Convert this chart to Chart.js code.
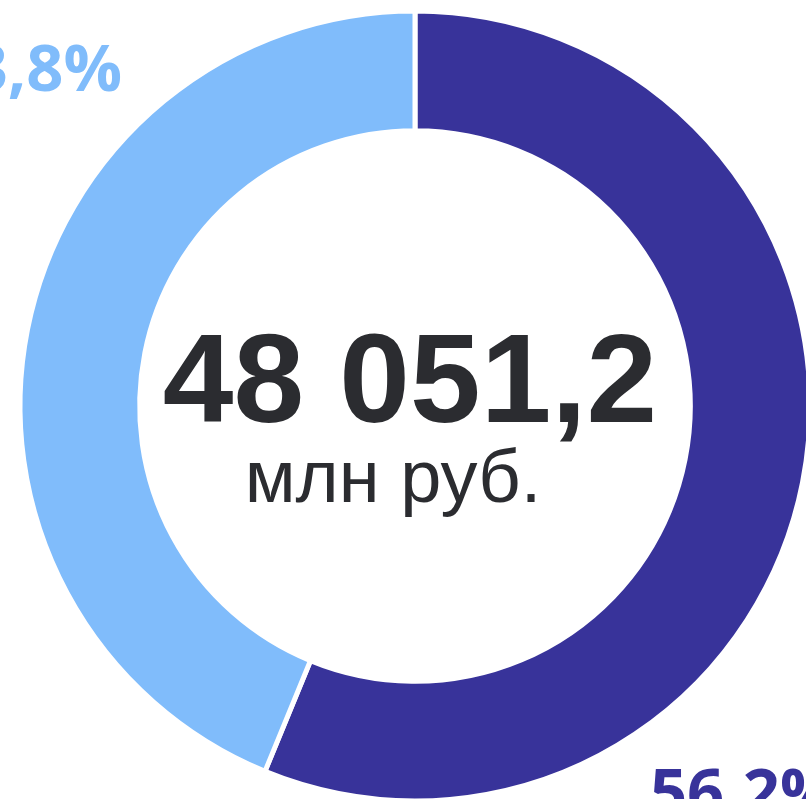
<!DOCTYPE html>
<html>
<head>
<meta charset="utf-8">
<script src="https://cdn.jsdelivr.net/npm/chart.js@4"></script>
<style>
  html, body { margin: 0; padding: 0; background: #fff; overflow: hidden; }
  #wrap { position: relative; width: 806px; height: 799px; }
</style>
</head>
<body>
<div id="wrap"><canvas id="chart1" width="806" height="799"></canvas></div>
<script>
// данные
const labels = ['56,2%', '43,8%'];
const values = [56.2, 43.8];
const colors = ['#38339a', '#80bcfb'];
const totalText = '48 051,2';
const unitText = 'млн руб.';

// подписи долей снаружи кольца (угол от верха по часовой, доля радиуса)
const labelPos = [
  { angle: 139.9, dist: 1.294 },
  { angle: 310.7, dist: 1.293 },
];

const sliceLabels = {
  id: 'sliceLabels',
  afterDraw(chart) {
    const ctx = chart.ctx;
    const arcs = chart.getDatasetMeta(0).data;
    ctx.save();
    ctx.font = 'bold 65px "Open Sans"';
    ctx.textAlign = 'center';
    ctx.textBaseline = 'middle';
    arcs.forEach((arc, i) => {
      const a = (labelPos[i].angle - 90) * Math.PI / 180;
      const r = arc.outerRadius * labelPos[i].dist;
      ctx.fillStyle = colors[i];
      ctx.fillText(labels[i], arc.x + Math.cos(a) * r, arc.y + Math.sin(a) * r);
    });
    ctx.restore();
  },
};

const centerText = {
  id: 'centerText',
  afterDraw(chart) {
    const ctx = chart.ctx;
    const arc = chart.getDatasetMeta(0).data[0];
    ctx.save();
    ctx.fillStyle = '#2b2c30';
    ctx.textAlign = 'center';
    ctx.textBaseline = 'alphabetic';
    ctx.font = 'bold 127px "Liberation Sans"';
    ctx.fillText(totalText, arc.x - 5, arc.y + 16);
    ctx.font = '74px "Liberation Sans"';
    ctx.fillText(unitText, arc.x - 22, arc.y + 96);
    ctx.restore();
  },
};

var ctx = document.getElementById('chart1').getContext('2d');
new Chart(ctx, {
  type: 'doughnut',
  data: {
    labels: labels,
    datasets: [{
      data: values,
      backgroundColor: colors,
      borderColor: '#ffffff',
      borderWidth: 5,
    }],
  },
  options: {
    responsive: false,
    animation: false,
    radius: 395,
    cutout: '69.7%',
    layout: { padding: { left: 24, right: 0, top: 13, bottom: 0 } },
    plugins: {
      legend: { display: false },
      tooltip: { enabled: false },
    },
  },
  plugins: [sliceLabels, centerText],
});
</script>
</body>
</html>
